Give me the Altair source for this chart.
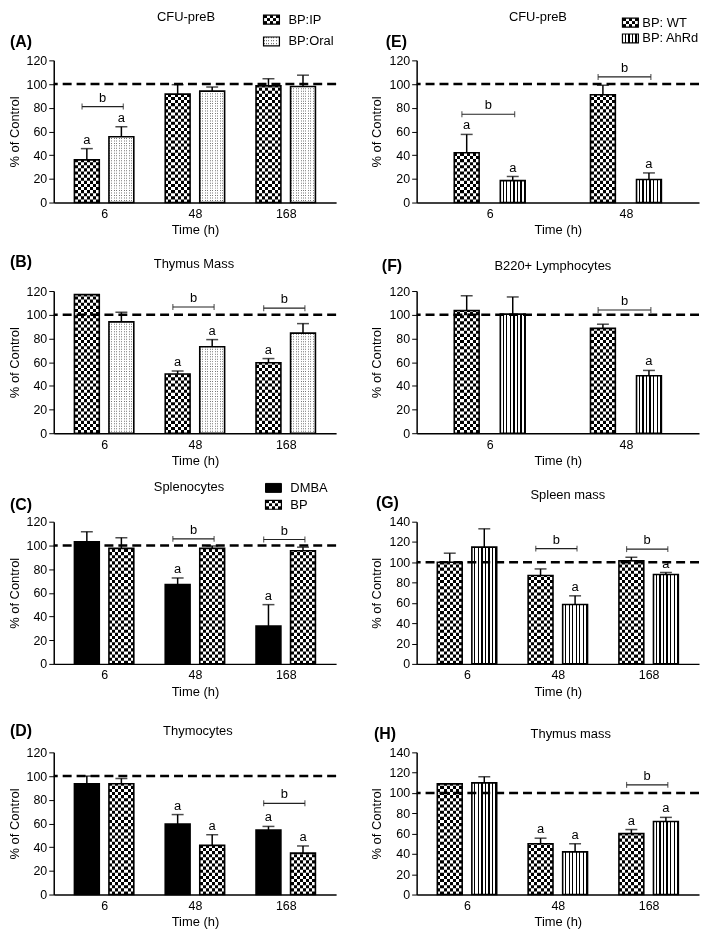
import json
import altair as alt
import pandas as pd

FONT = "Liberation Sans"

# ---------------- data ----------------
times3 = ["6", "48", "168"]
times2 = ["6", "48"]

panel_titles = ["CFU-preB", "Thymus Mass", "Splenocytes", "Thymocytes",
                "CFU-preB", "B220+ Lymphocytes", "Spleen mass", "Thymus mass"]
panel_letters = ["(A)", "(B)", "(C)", "(D)", "(E)", "(F)", "(G)", "(H)"]
legend_route = ["BP:IP", "BP:Oral"]
legend_chem = ["DMBA", "BP"]
legend_strain = ["BP: WT", "BP: AhRd"]
axis_x_title = "Time (h)"
axis_y_title = "% of Control"
sig_letters = ["a", "b"]
ref_line = [100]

# (A) CFU-preB : BP:IP vs BP:Oral
A_ip_mean = [36, 91.5, 98.5]
A_ip_err = [9.5, 8, 6]
A_ip_sig = [1, 0, 0]
A_oral_mean = [55.5, 94, 98]
A_oral_err = [8.5, 3.5, 9.5]
A_oral_sig = [1, 0, 0]
A_brackets = [(0, 81)]

# (B) Thymus Mass : BP:IP vs BP:Oral
B_ip_mean = [117, 50, 59.5]
B_ip_err = [0, 2.5, 3.5]
B_ip_sig = [0, 1, 1]
B_oral_mean = [94, 73, 84.5]
B_oral_err = [8, 6, 8]
B_oral_sig = [0, 1, 0]
B_brackets = [(1, 106.5), (2, 105.5)]

# (C) Splenocytes : DMBA vs BP
C_dmba_mean = [103, 67, 32]
C_dmba_err = [8.5, 5.5, 18]
C_dmba_sig = [0, 1, 1]
C_bp_mean = [97.5, 97.5, 95.5]
C_bp_err = [9, 2, 3]
C_bp_sig = [0, 0, 0]
C_brackets = [(1, 105.5), (2, 105)]

# (D) Thymocytes : DMBA vs BP
D_dmba_mean = [93.5, 59.5, 54.5]
D_dmba_err = [6.5, 8, 3]
D_dmba_sig = [0, 1, 1]
D_bp_mean = [93.5, 41.5, 35]
D_bp_err = [4.5, 9, 6]
D_bp_sig = [0, 1, 1]
D_brackets = [(2, 77)]

# (E) CFU-preB : WT vs AhRd
E_wt_mean = [42, 91]
E_wt_err = [15.5, 8]
E_wt_sig = [1, 0]
E_ahrd_mean = [18.5, 19.5]
E_ahrd_err = [3.5, 5.5]
E_ahrd_sig = [1, 1]
E_brackets = [(0, 74.5), (1, 106)]

# (F) B220+ Lymphocytes : WT vs AhRd
F_wt_mean = [103.5, 88.5]
F_wt_err = [12.5, 3.5]
F_wt_sig = [0, 0]
F_ahrd_mean = [100.5, 48.5]
F_ahrd_err = [14.5, 4.5]
F_ahrd_sig = [0, 1]
F_brackets = [(1, 104)]

# (G) Spleen mass : WT vs AhRd
G_wt_mean = [100, 87, 101.5]
G_wt_err = [9, 6.5, 3.5]
G_wt_sig = [0, 0, 0]
G_ahrd_mean = [115, 58.5, 88]
G_ahrd_err = [18, 8.5, 2]
G_ahrd_sig = [0, 1, 1]
G_brackets = [(1, 113.5), (2, 113)]

# (H) Thymus mass : WT vs AhRd
H_wt_mean = [109, 50, 60]
H_wt_err = [0, 5.5, 4]
H_wt_sig = [0, 1, 1]
H_ahrd_mean = [110, 42, 72]
H_ahrd_err = [6, 8, 4]
H_ahrd_sig = [0, 1, 1]
H_brackets = [(2, 108)]

# ---------------- styling / layout ----------------
W_LEFT, W_RIGHT, H = 284, 284, 143
BW = 25
BAR_OFF = {3: 18, 2: 24}


def grad(cols, widths=None):
    if widths is None:
        widths = [1] * len(cols)
    tot = float(sum(widths))
    stops, acc = [], 0.0
    for c, w in zip(cols, widths):
        stops.append(alt.GradientStop(offset=acc / tot, color=c))
        acc += w
        stops.append(alt.GradientStop(offset=min(acc / tot, 1.0), color=c))
    return alt.LinearGradient(gradient="linear", stops=stops, x1=0, x2=1, y1=0, y2=0)


CHK_A = grad(["black", "white", "black", "white", "black"])
CHK_B = grad(["white", "black", "white", "black", "white"])
DOT_SW = grad(["#777777", "white"] * 6 + ["white"], [1, 1.5] * 6 + [1])
PAT = {
    "checker": dict(fill=grad(["black", "white"] * 4),
                    sw_rows=[CHK_A, CHK_B, CHK_A],
                    dash=[3.125, 3.125], dash_color="white", blend="difference"),
    "dots": dict(fill=grad(["#777777", "white"] * 10, [1, 1.5] * 10),
                 sw_rows=[DOT_SW, "white"] * 3,
                 dash=[1.5, 1.0], dash_color="white", blend=None),
    "stripes": dict(fill=grad(["white", "black"] * 7, [2.3, 1.27] * 7),
                    sw_rows=[grad(["white", "black"] * 4 + ["white"], [2.3, 1.27] * 4 + [1.7])],
                    dash=None, dash_color=None, blend=None),
}


def rule_kwargs(p, width, dash):
    kw = dict(strokeWidth=width, stroke=p["dash_color"], strokeDash=dash, strokeCap="butt")
    if p["blend"]:
        kw["blend"] = p["blend"]
    return kw


def bar_layers(df, pattern, X, ys, yax):
    base = alt.Chart(df)
    Y = alt.Y("mean:Q", scale=ys, axis=yax)
    if pattern == "solid":
        return [base.mark_bar(width=BW, orient="vertical", fill="black", stroke="black",
                              strokeWidth=1.6).encode(x=X, y=Y)]
    p = PAT[pattern]
    out = [base.mark_bar(width=BW, orient="vertical", fill=p["fill"]).encode(x=X, y=Y)]
    if p["dash"]:
        out.append(base.mark_rule(**rule_kwargs(p, BW, p["dash"])).encode(
            x=X, y=alt.Y("zero:Q", scale=ys, axis=yax), y2="mean:Q"))
    out.append(base.mark_bar(width=BW, orient="vertical", fillOpacity=0, stroke="black",
                             strokeWidth=1.6).encode(x=X, y=Y))
    return out


def swatch_layers(x0, yc, pattern, label, tx):
    one = alt.Chart(pd.DataFrame({"k": [0]}))
    w, h = 16, 9
    top = yc - h / 2
    box = dict(x=alt.value(x0), x2=alt.value(x0 + w), y=alt.value(top), y2=alt.value(top + h))
    out = []
    if pattern == "solid":
        out.append(one.mark_rect(fill="black", stroke="black", strokeWidth=1).encode(**box))
    else:
        rows = PAT[pattern]["sw_rows"]
        rh = h / len(rows)
        for i, f in enumerate(rows):
            out.append(one.mark_rect(fill=f).encode(
                x=alt.value(x0), x2=alt.value(x0 + w),
                y=alt.value(top + i * rh), y2=alt.value(top + (i + 1) * rh)))
        out.append(one.mark_rect(fillOpacity=0, stroke="black", strokeWidth=1.2).encode(**box))
    out.append(one.mark_text(align="left", baseline="middle", fontSize=13).encode(
        x=alt.value(tx), y=alt.value(yc), text=alt.value(label)))
    return out


def panel(times, s_a, s_b, brackets, ymax, letter, letter_xy, title, title_xy,
          legend=None, W=W_LEFT):
    n = len(times)
    unit = W / n
    off = BAR_OFF[n] / unit
    xs = alt.Scale(domain=[-0.5, n - 0.5], nice=False, zero=False)
    ys = alt.Scale(domain=[0, ymax], nice=False)
    xax = alt.Axis(values=list(range(n)), labelExpr=json.dumps(times) + "[datum.value]",
                   ticks=False, tickSize=0, grid=False, title=axis_x_title,
                   labelPadding=5, titlePadding=4)
    yax = alt.Axis(values=list(range(0, ymax + 1, 20)), grid=False, title=axis_y_title,
                   tickSize=5, labelPadding=2, titlePadding=5)
    rows = []
    for si, (mean, err, sig, pat) in enumerate([s_a, s_b]):
        for ti in range(n):
            rows.append({"series": si, "xc": ti + (off if si else -off), "mean": mean[ti],
                         "err": err[ti], "top": mean[ti] + err[ti], "zero": 0, "sig": sig[ti]})
    df = pd.DataFrame(rows)
    X = alt.X("xc:Q", scale=xs, axis=xax)
    layers = []
    for si, s in enumerate([s_a, s_b]):
        layers += bar_layers(df[df.series == si], s[3], X, ys, yax)

    # error bars
    de = df[df.err > 0]
    layers.append(alt.Chart(de).mark_rule(color="black", strokeWidth=1.5).encode(
        x=X, y=alt.Y("mean:Q", scale=ys, axis=yax), y2="top:Q"))
    layers.append(alt.Chart(de).mark_tick(orient="horizontal", size=12, thickness=1.5,
                                          color="black").encode(
        x=X, y=alt.Y("top:Q", scale=ys, axis=yax)))

    # reference line at 100 %
    layers.append(alt.Chart(pd.DataFrame({"ref": ref_line})).mark_rule(
        color="black", strokeWidth=2.5, strokeDash=[9, 5]).encode(
        y=alt.Y("ref:Q", scale=ys, axis=yax)))

    # "a" letters
    dsig = df[df.sig == 1]
    layers.append(alt.Chart(dsig).mark_text(baseline="bottom", dy=-2, fontSize=13,
                                            color="black").encode(
        x=X, y=alt.Y("top:Q", scale=ys, axis=yax), text=alt.value(sig_letters[0])))

    # brackets "b"
    if brackets:
        db = pd.DataFrame([{"x1": t - off - 5 / unit, "x2": t + off + 2 / unit,
                            "xm": t + (-3 / 2) / unit, "yb": yb} for t, yb in brackets])
        dcap = pd.DataFrame([{"xe": r[k], "yb": r["yb"]} for _, r in db.iterrows()
                             for k in ("x1", "x2")])
        layers.append(alt.Chart(db).mark_rule(color="#222222", strokeWidth=1.2).encode(
            x=alt.X("x1:Q", scale=xs, axis=xax), x2="x2:Q",
            y=alt.Y("yb:Q", scale=ys, axis=yax)))
        layers.append(alt.Chart(dcap).mark_tick(orient="vertical", size=6, thickness=1.2,
                                                color="#222222").encode(
            x=alt.X("xe:Q", scale=xs, axis=xax), y=alt.Y("yb:Q", scale=ys, axis=yax)))
        layers.append(alt.Chart(db).mark_text(baseline="bottom", dy=-2, fontSize=13,
                                              color="black").encode(
            x=alt.X("xm:Q", scale=xs, axis=xax), y=alt.Y("yb:Q", scale=ys, axis=yax),
            text=alt.value(sig_letters[1])))

    one = alt.Chart(pd.DataFrame({"k": [0]}))
    layers.append(one.mark_text(align="center", baseline="middle", fontSize=13).encode(
        x=alt.value(title_xy[0]), y=alt.value(title_xy[1]), text=alt.value(title)))
    layers.append(one.mark_text(align="left", baseline="middle", fontSize=16,
                                fontWeight="bold").encode(
        x=alt.value(letter_xy[0]), y=alt.value(letter_xy[1]), text=alt.value(letter)))
    if legend:
        sx, tx, ys_leg, labels, pats = legend
        for yy, lab, pt in zip(ys_leg, labels, pats):
            layers += swatch_layers(sx, yy, pt, lab, tx)

    return alt.layer(*layers).properties(width=W, height=H)


pA = panel(times3, (A_ip_mean, A_ip_err, A_ip_sig, "checker"),
           (A_oral_mean, A_oral_err, A_oral_sig, "dots"), A_brackets, 120,
           panel_letters[0], (-44, -18), panel_titles[0], (133, -44),
           legend=(211, 236, [-41, -19], legend_route, ["checker", "dots"]))
pB = panel(times3, (B_ip_mean, B_ip_err, B_ip_sig, "checker"),
           (B_oral_mean, B_oral_err, B_oral_sig, "dots"), B_brackets, 120,
           panel_letters[1], (-44, -29), panel_titles[1], (141, -27))
pC = panel(times3, (C_dmba_mean, C_dmba_err, C_dmba_sig, "solid"),
           (C_bp_mean, C_bp_err, C_bp_sig, "checker"), C_brackets, 120,
           panel_letters[2], (-44, -17), panel_titles[2], (136, -35),
           legend=(213, 238, [-34, -17], legend_chem, ["solid", "checker"]))
pD = panel(times3, (D_dmba_mean, D_dmba_err, D_dmba_sig, "solid"),
           (D_bp_mean, D_bp_err, D_bp_sig, "checker"), D_brackets, 120,
           panel_letters[3], (-44, -21), panel_titles[3], (145, -21))
pE = panel(times2, (E_wt_mean, E_wt_err, E_wt_sig, "checker"),
           (E_ahrd_mean, E_ahrd_err, E_ahrd_sig, "stripes"), E_brackets, 120,
           panel_letters[4], (-31, -18), panel_titles[4], (122, -44),
           legend=(207, 227, [-38, -22], legend_strain, ["checker", "stripes"]), W=W_RIGHT)
pF = panel(times2, (F_wt_mean, F_wt_err, F_wt_sig, "checker"),
           (F_ahrd_mean, F_ahrd_err, F_ahrd_sig, "stripes"), F_brackets, 120,
           panel_letters[5], (-35, -25), panel_titles[5], (137, -25), W=W_RIGHT)
pG = panel(times3, (G_wt_mean, G_wt_err, G_wt_sig, "checker"),
           (G_ahrd_mean, G_ahrd_err, G_ahrd_sig, "stripes"), G_brackets, 140,
           panel_letters[6], (-41, -19), panel_titles[6], (152, -27), W=W_RIGHT)
pH = panel(times3, (H_wt_mean, H_wt_err, H_wt_sig, "checker"),
           (H_ahrd_mean, H_ahrd_err, H_ahrd_sig, "stripes"), H_brackets, 140,
           panel_letters[7], (-43, -18), panel_titles[7], (155, -18), W=W_RIGHT)

chart = alt.concat(pA, pE, pB, pF, pC, pG, pD, pH, columns=2,
                   spacing={"row": 89, "column": 81}, bounds="flush").properties(
    padding=0
).configure(font=FONT, background="white").configure_view(strokeWidth=0).configure_axis(
    domainColor="black", domainWidth=1.5, tickColor="black", tickWidth=1,
    labelColor="black", titleColor="black", labelFontSize=12.5, titleFontSize=13,
    titleFontWeight="normal", labelFont=FONT, titleFont=FONT)

chart.save("out.html", embed_options={"renderer": "svg", "actions": False})
